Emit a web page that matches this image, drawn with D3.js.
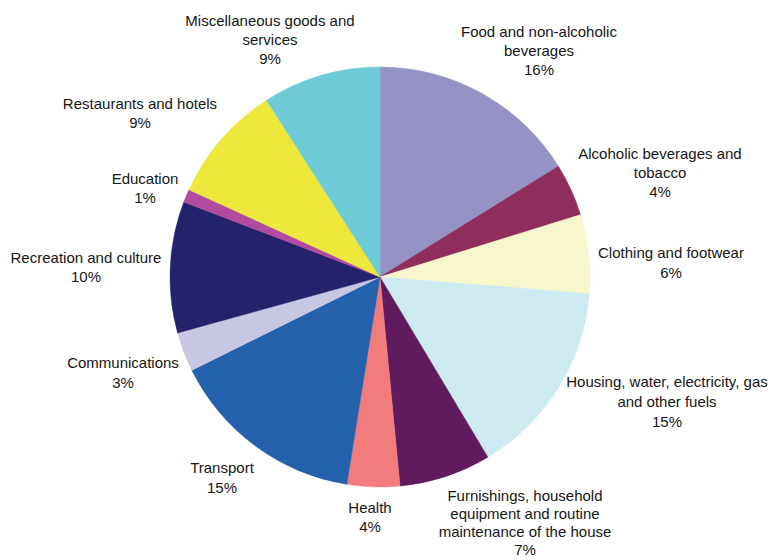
<!DOCTYPE html>
<html>
<head>
<meta charset="utf-8">
<script src="https://cdn.jsdelivr.net/npm/d3@7"></script>
<style>
  html, body { margin: 0; padding: 0; background: #fff; }
  svg { display: block; }
  text { font-family: "Liberation Sans", Arial, sans-serif; font-size: 15px; fill: #161616; }
</style>
</head>
<body>
<div id="chart"></div>
<script>
// Household expenditure shares by category (percent), clockwise from 12 o'clock
const categories = [
  "Food and non-alcoholic beverages",
  "Alcoholic beverages and tobacco",
  "Clothing and footwear",
  "Housing, water, electricity, gas and other fuels",
  "Furnishings, household equipment and routine maintenance of the house",
  "Health",
  "Transport",
  "Communications",
  "Recreation and culture",
  "Education",
  "Restaurants and hotels",
  "Miscellaneous goods and services"
];
const shares = [16, 4, 6, 15, 7, 4, 15, 3, 10, 1, 9, 9];

// Label text broken into lines
const labelLines = [
  ["Food and non-alcoholic", "beverages"],
  ["Alcoholic beverages and", "tobacco"],
  ["Clothing and footwear"],
  ["Housing, water, electricity, gas", "and other fuels"],
  ["Furnishings, household", "equipment and routine", "maintenance of the house"],
  ["Health"],
  ["Transport"],
  ["Communications"],
  ["Recreation and culture"],
  ["Education"],
  ["Restaurants and hotels"],
  ["Miscellaneous goods and", "services"]
];

const sliceColors = [
  "#9592c6", "#8f2d5d", "#f8f6cc", "#cdeaf1", "#5f1b5d", "#f27c7b",
  "#2461ad", "#c9c8e4", "#23226b", "#b04b9f", "#ede83b", "#6dcbd8"
];

// Label block anchor (centre of first line) and line spacing, layout only
const labelPos = [
  [539, 32], [660, 154], [671, 253], [667, 382], [525, 496], [370, 508],
  [222, 468], [123, 363], [86, 258], [145, 179], [140, 104], [270, 21]
];
const labelLineH = [19, 19, 20, 20, 18, 19, 20, 20, 19, 19, 19, 19];

const width = 770, height = 560;
const cx = 380, cy = 277, radius = 210;

const data = categories.map((c, i) => ({
  name: c, value: shares[i], color: sliceColors[i],
  lines: labelLines[i], pos: labelPos[i], lh: labelLineH[i]
}));

const svg = d3.select("#chart").append("svg")
  .attr("width", width).attr("height", height);

const pie = d3.pie().sort(null).value(d => d.value);
const arc = d3.arc().innerRadius(0).outerRadius(radius);

svg.append("g")
  .attr("transform", `translate(${cx},${cy})`)
  .selectAll("path")
  .data(pie(data))
  .join("path")
  .attr("d", arc)
  .attr("fill", d => d.data.color)
  .attr("stroke", d => d.data.color)
  .attr("stroke-width", 0.5);

const labels = svg.append("g").selectAll("text")
  .data(data)
  .join("text")
  .attr("text-anchor", "middle")
  .attr("x", d => d.pos[0])
  .attr("y", d => d.pos[1]);

labels.each(function(d) {
  const t = d3.select(this);
  const rows = d.lines.concat([d.value + "%"]);
  rows.forEach((row, j) => {
    t.append("tspan")
      .attr("x", d.pos[0])
      .attr("y", d.pos[1] + j * d.lh)
      .attr("dy", "0.35em")
      .text(row);
  });
});
</script>
</body>
</html>
